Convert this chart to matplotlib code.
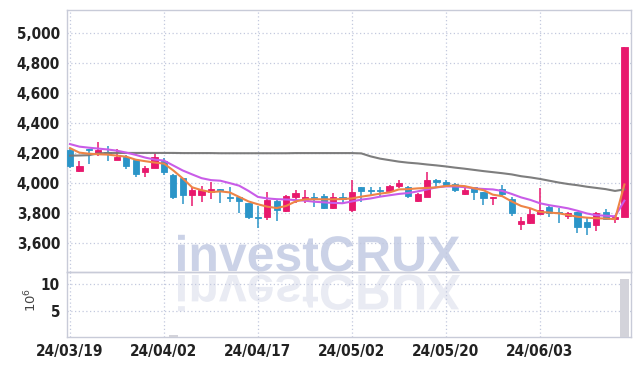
import matplotlib
matplotlib.use('Agg')
import matplotlib.pyplot as plt
import numpy as np
from matplotlib.textpath import TextPath
from matplotlib.patches import PathPatch
from matplotlib.font_manager import FontProperties, findfont
from matplotlib.transforms import Affine2D, IdentityTransform

# trading days (yy/mm/dd)
dates = ['24/03/19', '24/03/20', '24/03/21', '24/03/22', '24/03/25', '24/03/26', '24/03/27', '24/03/28',
         '24/03/29', '24/04/01', '24/04/02', '24/04/03', '24/04/04', '24/04/05', '24/04/08', '24/04/09',
         '24/04/11', '24/04/12', '24/04/15', '24/04/16', '24/04/17', '24/04/18', '24/04/19', '24/04/22',
         '24/04/23', '24/04/24', '24/04/25', '24/04/26', '24/04/29', '24/04/30', '24/05/02', '24/05/03',
         '24/05/07', '24/05/08', '24/05/09', '24/05/10', '24/05/13', '24/05/14', '24/05/16', '24/05/17',
         '24/05/20', '24/05/21', '24/05/22', '24/05/23', '24/05/24', '24/05/27', '24/05/28', '24/05/29',
         '24/05/30', '24/05/31', '24/06/03', '24/06/04', '24/06/05', '24/06/07', '24/06/10', '24/06/11',
         '24/06/12', '24/06/13', '24/06/14', '24/06/17']

opens = [4225, 4080, 4228, 4205, 4212, 4159, 4179, 4159, 4073, 4106,
         4152, 4053, 4033, 3921, 3921, 3940, 3960, 3907, 3907, 3868,
         3775, 3775, 3881, 3815, 3907, 3894, 3907, 3914, 3834, 3907,
         3821, 3974, 3956, 3956, 3947, 3980, 3974, 3881, 3907, 4026,
         4007, 3993, 3927, 3974, 3940, 3900, 3960, 3894, 3729, 3735,
         3795, 3841, 3808, 3781, 3808, 3742, 3722, 3808, 3762, 3775]
highs = [4230, 4152, 4230, 4278, 4252, 4232, 4192, 4165, 4113, 4205,
         4172, 4060, 4035, 3974, 3980, 4007, 3962, 3974, 3910, 3870,
         3848, 3940, 3890, 3920, 3954, 3954, 3934, 3927, 3934, 3934,
         4020, 3976, 3974, 3974, 3987, 4020, 3980, 3934, 4073, 4028,
         4020, 4000, 3967, 3976, 3945, 3907, 3987, 3907, 3775, 3828,
         3967, 3847, 3834, 3808, 3810, 3768, 3808, 3828, 3788, 4910]
lows = [4100, 4073, 4132, 4185, 4146, 4159, 4099, 4040, 4046, 4100,
        4053, 3894, 3861, 3848, 3874, 3894, 3868, 3874, 3800, 3762,
        3702, 3755, 3748, 3808, 3868, 3868, 3841, 3828, 3828, 3868,
        3808, 3874, 3921, 3914, 3940, 3967, 3900, 3874, 3907, 3974,
        3974, 3940, 3921, 3887, 3854, 3854, 3914, 3781, 3689, 3729,
        3795, 3775, 3735, 3762, 3669, 3656, 3682, 3755, 3735, 3775]
closes = [4115, 4119, 4220, 4225, 4199, 4179, 4119, 4066, 4106, 4179,
          4079, 3907, 3921, 3954, 3954, 3960, 3947, 3900, 3881, 3775,
          3768, 3887, 3821, 3914, 3934, 3907, 3900, 3834, 3907, 3894,
          3940, 3947, 3952, 3952, 3980, 4000, 3914, 3927, 4026, 4007,
          3987, 3954, 3954, 3940, 3900, 3907, 3927, 3801, 3748, 3795,
          3821, 3801, 3801, 3801, 3709, 3709, 3801, 3762, 3775, 4910]

# volume in millions of shares
volumes = [0.15, 0.12, 0.10, 0.14, 0.11, 0.09, 0.12, 0.13, 0.10, 0.12,
           0.18, 0.75, 0.30, 0.20, 0.15, 0.12, 0.14, 0.11, 0.16, 0.20,
           0.18, 0.15, 0.13, 0.12, 0.10, 0.09, 0.11, 0.12, 0.10, 0.09,
           0.20, 0.12, 0.10, 0.09, 0.11, 0.12, 0.10, 0.11, 0.16, 0.12,
           0.10, 0.09, 0.08, 0.10, 0.09, 0.08, 0.10, 0.14, 0.18, 0.12,
           0.15, 0.10, 0.11, 0.09, 0.16, 0.12, 0.13, 0.10, 0.11, 10.9]

# moving averages as drawn
ma5 = [4235, 4205, 4198, 4194, 4192, 4185, 4178, 4158, 4148, 4139,
       4132, 4086, 4033, 3974, 3955, 3942, 3947, 3940, 3910, 3880,
       3861, 3845, 3836, 3850, 3880, 3894, 3895, 3894, 3894, 3896,
       3900, 3912, 3921, 3932, 3940, 3960, 3962, 3967, 3970, 3974,
       3983, 3986, 3982, 3968, 3955, 3925, 3915, 3880, 3850, 3834,
       3810, 3806, 3801, 3790, 3778, 3772, 3768, 3766, 3762, 3993]
ma20 = [4262, 4245, 4238, 4232, 4226, 4218, 4205, 4190, 4172, 4159,
        4152, 4119, 4086, 4060, 4035, 4022, 4018, 4002, 3985, 3950,
        3910, 3900, 3895, 3893, 3889, 3885, 3878, 3874, 3870, 3868,
        3880, 3892, 3900, 3912, 3921, 3930, 3936, 3947, 3960, 3974,
        3980, 3980, 3975, 3967, 3963, 3960, 3950, 3930, 3907, 3890,
        3868, 3855, 3845, 3834, 3818, 3800, 3788, 3785, 3781, 3885]
ma120 = [4185, 4186, 4188, 4200, 4203, 4203, 4203, 4203, 4203, 4203,
         4203, 4203, 4202, 4202, 4202, 4202, 4201, 4201, 4201, 4201,
         4201, 4201, 4201, 4201, 4202, 4202, 4202, 4202, 4202, 4202,
         4202, 4200, 4180, 4165, 4155, 4145, 4138, 4133, 4126, 4120,
         4113, 4105, 4098, 4090, 4082, 4075, 4068, 4060, 4048, 4040,
         4030, 4018, 4006, 3996, 3988, 3978, 3970, 3962, 3950, 3960]

up_color = '#e8186d'
down_color = '#2b95c8'
grid_color = '#c3c9de'
spine_color = '#c8cbd8'

fig = plt.figure(figsize=(6.39, 3.66), dpi=100)
fig.patch.set_facecolor('white')
ax = fig.add_axes([67 / 639, 1 - 272 / 366, 564 / 639, 262 / 366])
axv = fig.add_axes([67 / 639, 1 - 337 / 366, 564 / 639, 65 / 366], sharex=ax)
ax.set_facecolor('none')
axv.set_facecolor('none')

x = np.arange(len(dates))
o = np.array(opens)
c = np.array(closes)
colors = [up_color if cc >= oo else down_color for oo, cc in zip(o, c)]
body_bottom = np.minimum(o, c)
body_height = np.maximum(np.abs(c - o), 3)

ax.vlines(x, lows, highs, colors=colors, linewidth=1.1, zorder=3)
ax.bar(x, body_height, bottom=body_bottom, width=0.66, color=colors,
       edgecolor=colors, linewidth=0.6, zorder=4)

ax.plot(x, ma120, color='#777777', linewidth=1.5, alpha=0.95, zorder=5)
ax.plot(x, ma20, color='#c95ce8', linewidth=1.5, zorder=5)
ax.plot(x, ma5, color='#ee8446', linewidth=1.5, zorder=5)

axv.bar(x, volumes, width=0.95, color='#d3d3da', zorder=3)

ax.set_xlim(-0.32, 59.7)
ax.set_ylim(3410, 5155)
axv.set_ylim(0.4, 12.1)

yt = [3600, 3800, 4000, 4200, 4400, 4600, 4800, 5000]
ax.set_yticks(yt)
ax.set_yticklabels(['{:,}'.format(v) for v in yt])
axv.set_yticks([5, 10])
axv.set_yticklabels(['5', '10'])

tick_idx = list(range(0, 60, 10))
axv.set_xticks(tick_idx)
axv.set_xticklabels([dates[i] for i in tick_idx])
ax.tick_params(axis='x', labelbottom=False)

# condensed bold face for the tick labels
label_fp = FontProperties(family='DejaVu Sans', weight='bold', stretch='condensed', size=11)
for a in (ax, axv):
    a.grid(True, color=grid_color, linestyle=(0, (1, 2)), linewidth=0.9)
    a.set_axisbelow(True)
    a.tick_params(length=0, pad=5, labelcolor='#222222')
    for lab in a.get_yticklabels() + a.get_xticklabels():
        lab.set_fontproperties(label_fp)
    for s in a.spines.values():
        s.set_color(spine_color)
        s.set_linewidth(1.0)

fig.text(31 / 639, 1 - 300 / 366, r'$10^6$', rotation=90, ha='center', va='center',
         fontsize=9.5, color='#444444')

# watermark with reflection
fp = FontProperties(family='Liberation Sans', weight='bold')
tp = TextPath((0, 0), 'investCRUX', size=50, prop=fp)
bb = tp.get_extents()
s = 282 / bb.width
tx = 178 - bb.x0 * s
base = 366 - 271
mark = PathPatch(tp, transform=Affine2D().scale(s, s).translate(tx, base) + IdentityTransform(),
                 facecolor='#cbd2e7', edgecolor='none', zorder=-1)
refl = PathPatch(tp, transform=Affine2D().scale(s, -s).translate(tx, base - 4) + IdentityTransform(),
                 facecolor='#e9ebf3', edgecolor='none', zorder=-1)
fig.add_artist(mark)
fig.add_artist(refl)

fig.savefig('out.png', dpi=100)
